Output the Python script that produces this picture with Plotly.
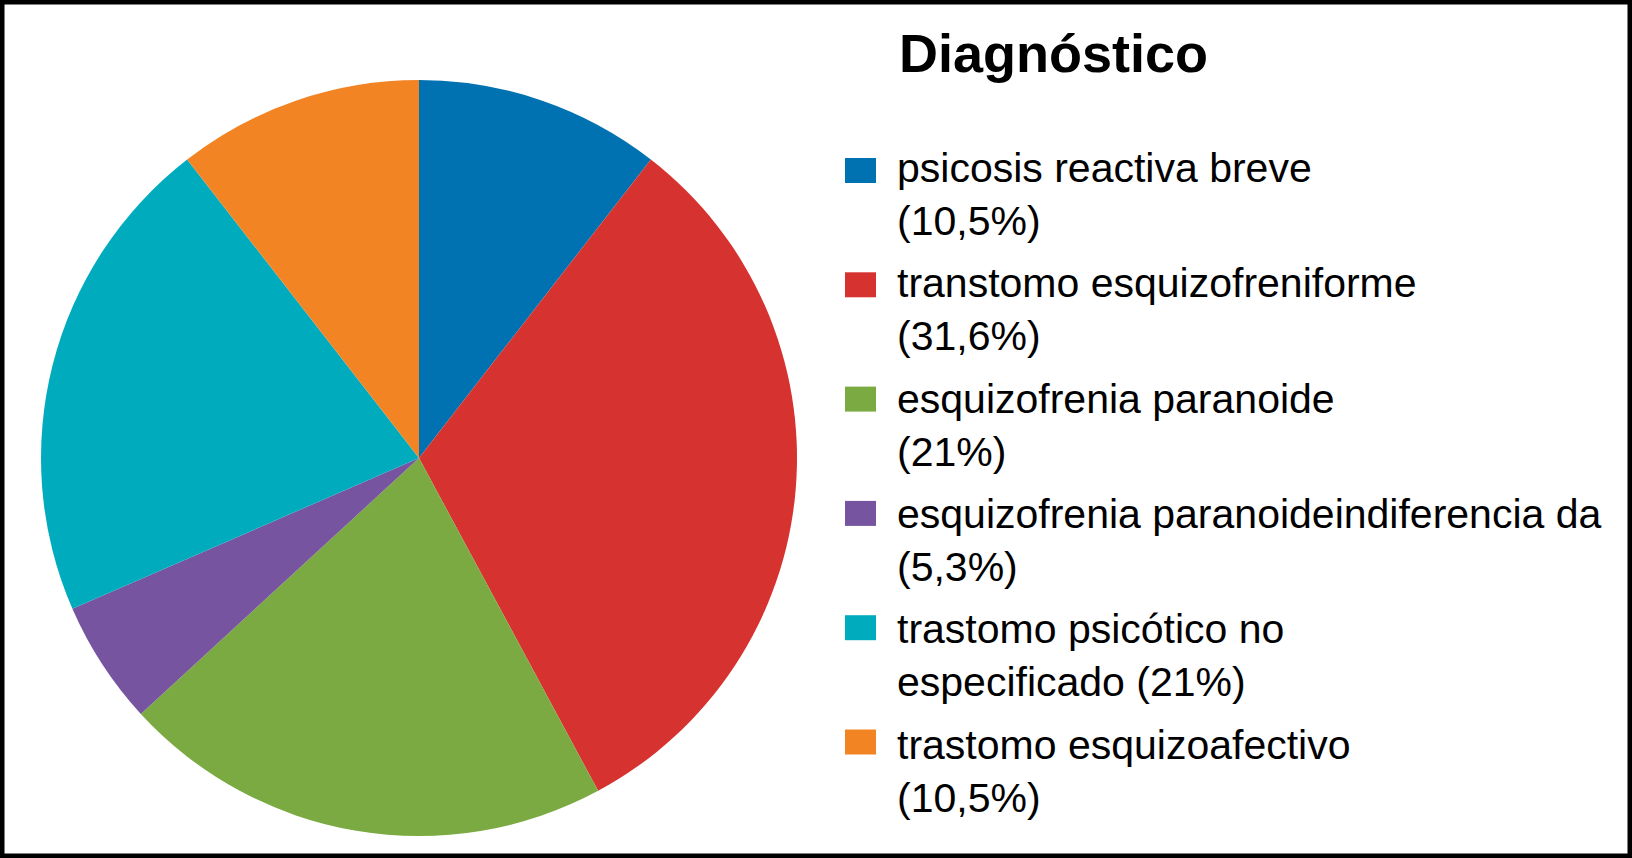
"""
Pie chart of diagnoses with a hand-built legend on the right.
"""
import plotly.graph_objects as go

W, H = 1632, 858
FONT = "Liberation Sans, Arial, Helvetica, sans-serif"

labels = [
    "psicosis reactiva breve",
    "transtomo esquizofreniforme",
    "esquizofrenia paranoide",
    "esquizofrenia paranoideindiferencia da",
    "trastomo psicótico no especificado",
    "trastomo esquizoafectivo",
]
values = [10.5, 31.6, 21, 5.3, 21, 10.5]
legend_text = [
    "psicosis reactiva breve<br>(10,5%)",
    "transtomo esquizofreniforme<br>(31,6%)",
    "esquizofrenia paranoide<br>(21%)",
    "esquizofrenia paranoideindiferencia da<br>(5,3%)",
    "trastomo psicótico no<br>especificado (21%)",
    "trastomo esquizoafectivo<br>(10,5%)",
]
colors = ["#0071b1", "#d6322f", "#7aaa41", "#76549f", "#00abbd", "#f38424"]
title = "Diagnóstico"

fig = go.Figure(go.Pie(
    labels=labels,
    values=values,
    sort=False,
    direction="clockwise",
    rotation=0,
    marker=dict(colors=colors, line=dict(width=0)),
    textinfo="none",
    hoverinfo="label+percent",
    showlegend=False,
    domain=dict(x=[41 / W, 797 / W], y=[1 - 836 / H, 1 - 80 / H]),
))

# legend drawn by hand so the swatches can be as large as in the source
annotations = [dict(
    text=f"<b>{title}</b>", x=897 / W, y=1 - 21 / H,
    xref="paper", yref="paper", xanchor="left", yanchor="top",
    showarrow=False, align="left",
    font=dict(family=FONT, size=54, color="black"),
)]
shapes = []
for i, (txt, clr) in enumerate(zip(legend_text, colors)):
    top = 143 + i * 115.3
    annotations.append(dict(
        text=txt, x=895 / W, y=1 - top / H,
        xref="paper", yref="paper", xanchor="left", yanchor="top",
        showarrow=False, align="left",
        font=dict(family=FONT, size=41, color="black"),
    ))
    cy = 170.5 + i * 114.3
    shapes.append(dict(
        type="rect", xref="paper", yref="paper",
        x0=845 / W, x1=876 / W, y0=1 - (cy + 12.5) / H, y1=1 - (cy - 12.5) / H,
        fillcolor=clr, line=dict(width=0),
    ))

# black frame round the whole picture
shapes.append(dict(
    type="rect", xref="paper", yref="paper", x0=0, x1=1, y0=0, y1=1,
    line=dict(color="black", width=9), fillcolor="rgba(0,0,0,0)",
))

fig.update_layout(
    width=W,
    height=H,
    margin=dict(l=0, r=0, t=0, b=0),
    paper_bgcolor="white",
    plot_bgcolor="white",
    annotations=annotations,
    shapes=shapes,
    font=dict(family=FONT, color="black"),
)
# drop the browser's default page margin so the figure fills the window
fig.write_html(
    "out.html",
    config={"displayModeBar": False},
    post_script="document.body.style.margin='0';document.body.style.overflow='hidden';",
)
